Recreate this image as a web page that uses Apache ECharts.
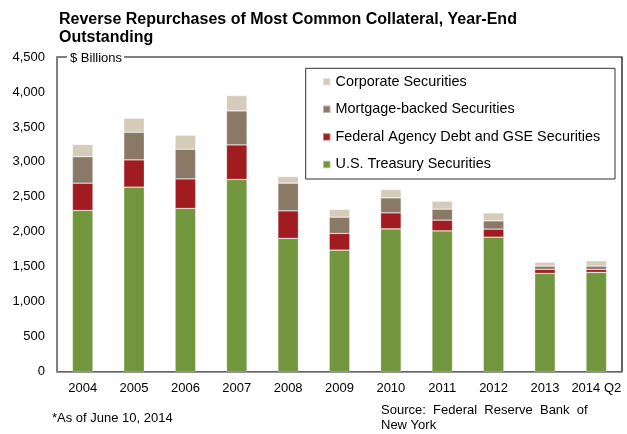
<!DOCTYPE html>
<html>
<head>
<meta charset="utf-8">
<script src="https://cdn.jsdelivr.net/npm/echarts@6/dist/echarts.min.js"></script>
<style>
html,body{margin:0;padding:0;background:#fff;}
#c{width:627px;height:434px;}
</style>
</head>
<body>
<div id="c"></div>
<script>
var categories = ['2004','2005','2006','2007','2008','2009','2010','2011','2012','2013','2014 Q2'];
var treasury  = [2306, 2639, 2334, 2749, 1906, 1739, 2043, 2014, 1924, 1406, 1420];
var agency    = [390, 390, 423, 494, 394, 238, 228, 153, 115, 57, 43];
var mortgage  = [378, 395, 424, 486, 396, 233, 215, 157, 118, 47, 47];
var corporate = [175, 200, 201, 220, 95, 110, 120, 115, 114, 57, 76];
var yTicks = [0, 500, 1000, 1500, 2000, 2500, 3000, 3500, 4000, 4500];

var FONT = 'Liberation Sans, Arial, Helvetica, sans-serif';
var chart = echarts.init(document.getElementById('c'), null, {renderer: 'canvas'});

function bar(name, data, color) {
  return {
    name: name, type: 'bar', stack: 'total', data: data, barWidth: '40%',
    itemStyle: {color: color, borderColor: 'rgba(255,255,255,0.45)', borderWidth: 0.6},
    emphasis: {disabled: true}
  };
}

var option = {
  animation: false,
  backgroundColor: '#fff',
  textStyle: {fontFamily: FONT},
  title: {
    text: 'Reverse Repurchases of Most Common Collateral, Year-End\nOutstanding',
    left: 59, top: 10, padding: 0,
    textStyle: {fontFamily: FONT, fontSize: 16, fontWeight: 'bold', color: '#000', lineHeight: 18.5}
  },
  grid: {left: 57, right: 5, top: 57, bottom: 62.3, show: true, borderColor: '#000', borderWidth: 1.2, backgroundColor: 'transparent'},
  legend: {
    orient: 'vertical', left: 322, top: 73.7, padding: 0,
    itemWidth: 7.5, itemHeight: 7.5, itemGap: 11.6, icon: 'rect',
    data: ['Corporate Securities', 'Mortgage-backed Securities', 'Federal Agency Debt and GSE Securities', 'U.S. Treasury Securities'],
    textStyle: {fontFamily: FONT, fontSize: 14.4, color: '#000', lineHeight: 16},
    selectedMode: false, z: 10
  },
  xAxis: {
    type: 'category', data: categories,
    axisLine: {show: true, lineStyle: {color: '#888', width: 1.6}},
    axisTick: {show: false},
    axisLabel: {color: '#000', fontSize: 13, fontFamily: FONT, margin: 10, interval: 0}
  },
  yAxis: {
    type: 'value', min: yTicks[0], max: yTicks[yTicks.length - 1], interval: yTicks[1] - yTicks[0],
    axisLine: {show: true, lineStyle: {color: '#888', width: 1.6}},
    axisTick: {show: false},
    splitLine: {show: false},
    axisLabel: {color: '#000', fontSize: 13, fontFamily: FONT, margin: 12,
      formatter: function (v) { return v.toLocaleString('en-US'); }}
  },
  series: [
    bar('U.S. Treasury Securities', treasury, '#72963E'),
    bar('Federal Agency Debt and GSE Securities', agency, '#A01C20'),
    bar('Mortgage-backed Securities', mortgage, '#8A7966'),
    bar('Corporate Securities', corporate, '#D5CBB9')
  ],
  graphic: [
    {type: 'rect', z: 5, shape: {x: 305.7, y: 68.3, width: 309.3, height: 110.7},
     style: {fill: '#fff', stroke: '#333', lineWidth: 1}},
    {type: 'text', z: 5, x: 67, y: 58,
     style: {text: '$ Billions', font: '13px ' + FONT, fill: '#000', verticalAlign: 'middle',
             backgroundColor: '#fff', padding: [1, 2, 1, 3]}},
    {type: 'text', x: 52, y: 418,
     style: {text: '*As of June 10, 2014', font: '13px ' + FONT, fill: '#000', verticalAlign: 'middle'}},
    {type: 'text', x: 381, y: 403,
     style: {text: 'Source:  Federal  Reserve  Bank  of\nNew York', font: '13px ' + FONT, fill: '#000', lineHeight: 15, verticalAlign: 'top'}}
  ]
};
chart.setOption(option);
</script>
</body>
</html>
